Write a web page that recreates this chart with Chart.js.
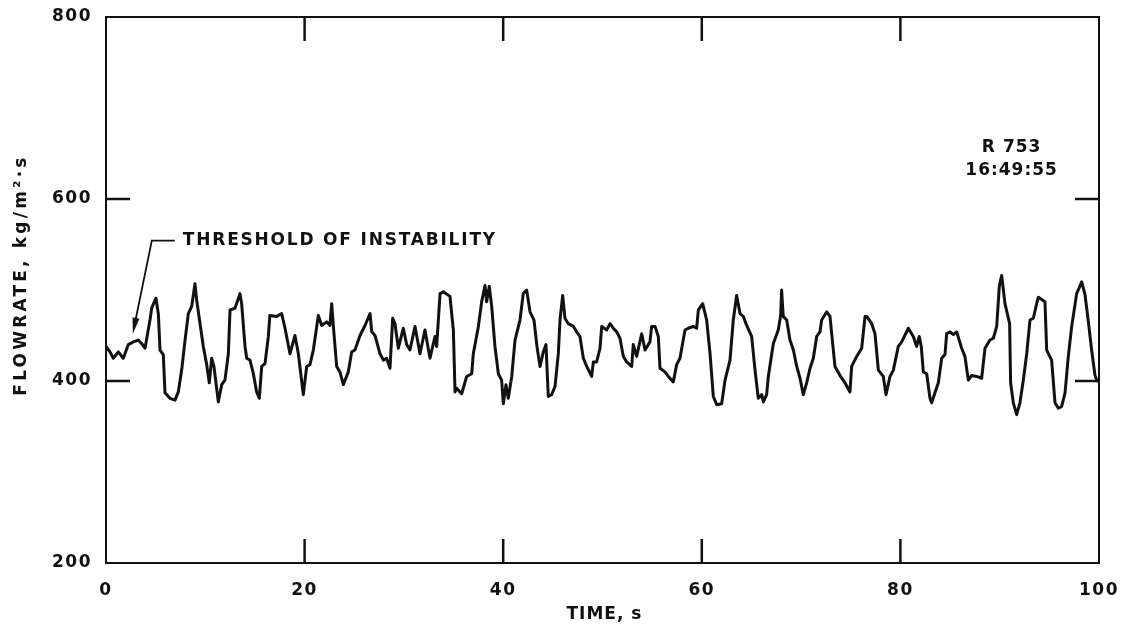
<!DOCTYPE html>
<html>
<head>
<meta charset="utf-8">
<script src="https://cdn.jsdelivr.net/npm/chart.js@4.4.1/dist/chart.umd.min.js"></script>
<style>
  html, body { margin: 0; padding: 0; background: #ffffff; }
  #wrap { width: 1125px; height: 628px; }
</style>
</head>
<body>
<div id="wrap"><canvas id="flow" width="1125" height="628"></canvas></div>
<script>
// Flow-rate record for run R 753 (time in s, flow rate in kg/m2.s)
const timeSec = [
  0.0, 0.4, 0.74, 1.24, 1.74, 2.25, 2.75, 3.25, 3.6, 3.93, 4.43, 4.6, 5.03, 5.27, 5.44, 5.77, 5.94, 6.44, 6.95, 7.28,
  7.62, 7.96, 8.29, 8.63, 8.96, 9.13, 9.47, 9.8, 10.14, 10.4, 10.64, 10.87, 11.31, 11.65, 11.98, 12.32, 12.49, 12.99, 13.49, 13.66,
  14.0, 14.17, 14.5, 14.84, 15.17, 15.44, 15.68, 16.01, 16.35, 16.5, 17.19, 17.69, 18.03, 18.53, 19.03, 19.37, 19.87, 20.21, 20.54, 20.88,
  21.38, 21.72, 22.22, 22.55, 22.73, 22.89, 23.23, 23.56, 23.9, 24.4, 24.74, 25.07, 25.58, 26.08, 26.59, 26.76, 27.09, 27.59, 27.93, 28.26,
  28.6, 28.87, 29.1, 29.44, 29.94, 30.28, 30.61, 31.12, 31.62, 32.12, 32.63, 33.13, 33.3, 33.64, 33.97, 34.64, 34.98, 35.15, 35.31, 35.82,
  36.32, 36.83, 36.99, 37.5, 37.83, 38.17, 38.33, 38.6, 38.84, 39.17, 39.51, 39.84, 40.01, 40.28, 40.51, 40.86, 41.19, 41.69, 42.02, 42.36,
  42.7, 43.1, 43.4, 43.71, 44.04, 44.31, 44.54, 44.88, 45.22, 45.55, 45.72, 45.99, 46.22, 46.56, 47.06, 47.4, 47.73, 48.07, 48.41, 48.91,
  49.08, 49.41, 49.75, 49.92, 50.42, 50.76, 51.09, 51.43, 51.76, 52.1, 52.43, 52.94, 53.1, 53.44, 53.95, 54.28, 54.78, 54.95, 55.29, 55.62,
  55.79, 56.29, 56.63, 57.13, 57.47, 57.8, 58.31, 58.64, 59.14, 59.48, 59.65, 60.09, 60.49, 60.83, 61.16, 61.5, 62.0, 62.34, 62.84, 63.17,
  63.51, 63.85, 64.18, 64.52, 65.02, 65.36, 65.69, 66.03, 66.2, 66.53, 66.7, 67.2, 67.7, 67.94, 68.04, 68.2, 68.55, 68.88, 69.22, 69.56,
  69.89, 70.22, 70.56, 70.9, 71.23, 71.57, 71.9, 72.07, 72.58, 72.91, 73.08, 73.41, 73.92, 74.42, 74.92, 75.09, 75.6, 76.1, 76.44, 76.6,
  77.11, 77.44, 77.78, 78.28, 78.55, 78.95, 79.29, 79.79, 80.13, 80.8, 81.3, 81.64, 81.9, 82.1, 82.31, 82.65, 82.98, 83.15, 83.48, 83.82,
  84.16, 84.49, 84.66, 85.0, 85.33, 85.67, 86.17, 86.5, 86.84, 87.17, 87.68, 88.18, 88.52, 89.02, 89.36, 89.7, 89.96, 90.2, 90.53, 91.0,
  91.1, 91.37, 91.71, 92.04, 92.38, 92.72, 93.05, 93.39, 93.72, 93.89, 94.56, 94.73, 95.23, 95.57, 95.9, 96.24, 96.58, 96.91, 97.25, 97.75,
  98.26, 98.59, 98.93, 99.26, 99.6, 99.77, 100.0
];
const flowRate = [
  438, 432, 425, 432, 425, 440, 443, 445, 441, 436, 467, 480, 491, 474, 434, 429, 387, 381, 379, 388,
  412, 445, 474, 482, 507, 489, 463, 438, 418, 398, 425, 416, 377, 396, 401, 430, 478, 480, 496, 485,
  438, 425, 423, 408, 388, 381, 416, 419, 449, 472, 471, 474, 458, 430, 450, 430, 385, 416, 418, 434,
  472, 461, 465, 461, 485, 461, 416, 410, 396, 410, 432, 434, 450, 461, 474, 454, 450, 430, 423, 425,
  414, 469, 463, 436, 458, 440, 434, 460, 430, 456, 425, 449, 438, 496, 498, 493, 456, 388, 392, 386,
  405, 408, 430, 460, 487, 505, 487, 504, 482, 438, 408, 401, 375, 396, 381, 405, 445, 467, 496, 500,
  476, 467, 438, 416, 432, 440, 383, 385, 394, 430, 467, 494, 469, 463, 460, 454, 449, 425, 416, 405,
  421, 421, 436, 460, 456, 463, 458, 454, 447, 427, 421, 416, 440, 427, 452, 434, 443, 460, 460, 449,
  414, 410, 405, 399, 418, 425, 456, 458, 460, 458, 478, 485, 467, 430, 383, 374, 375, 401, 423, 467,
  494, 474, 471, 461, 449, 412, 381, 385, 377, 385, 405, 441, 456, 472, 500, 471, 467, 445, 434, 416,
  403, 385, 398, 414, 425, 449, 454, 467, 476, 471, 452, 416, 406, 398, 388, 416, 427, 436, 471, 471,
  463, 452, 412, 405, 385, 405, 412, 438, 443, 458, 449, 438, 449, 438, 410, 408, 381, 376, 387, 398,
  425, 429, 452, 454, 451, 454, 436, 427, 401, 406, 405, 403, 436, 445, 447, 460, 504, 516, 485, 463,
  398, 376, 363, 376, 401, 430, 467, 469, 485, 492, 487, 434, 423, 376, 370, 372, 387, 427, 460, 496,
  509, 495, 465, 434, 406, 401, 399
];
const xTicks = [0, 20, 40, 60, 80, 100];
const yTicks = [200, 400, 600, 800];
const xTitle = 'TIME, s';
const yTitle = 'FLOWRATE, kg/m²·s';
const runLines = ['R 753', '16:49:55'];
const noteText = 'THRESHOLD OF INSTABILITY';
const onsetTime = 2.7;      // time the arrow points to
const onsetFlow = 452;      // just above the trace at that time

const INK = '#111111';
const FONT = 'bold 17px "DejaVu Sans", sans-serif';

const points = timeSec.map((t, i) => ({ x: t, y: flowRate[i] }));

function line(ctx, x1, y1, x2, y2) {
  ctx.beginPath();
  ctx.moveTo(x1, y1);
  ctx.lineTo(x2, y2);
  ctx.stroke();
}

// keep tick labels from pushing the plot frame inward
function noOverflow(scale) {
  scale.paddingLeft = 0;
  scale.paddingRight = 0;
  scale.paddingTop = 0;
  scale.paddingBottom = 0;
}

const decorations = {
  id: 'decorations',
  beforeDraw(chart) {
    chart.ctx.letterSpacing = '1.5px';
  },
  afterDraw(chart) {
    const { ctx, chartArea: a, scales: { x, y } } = chart;
    ctx.save();
    ctx.letterSpacing = '1.5px';
    ctx.strokeStyle = INK;
    ctx.fillStyle = INK;
    ctx.lineCap = 'square';

    // frame
    ctx.lineWidth = 2;
    ctx.strokeRect(a.left, a.top, a.right - a.left, a.bottom - a.top);

    // inward tick marks on all four sides
    ctx.lineWidth = 2.5;
    ctx.lineCap = 'butt';
    const L = 24;
    xTicks.slice(1, -1).forEach(v => {
      const px = x.getPixelForValue(v);
      line(ctx, px, a.top, px, a.top + L);
      line(ctx, px, a.bottom - L, px, a.bottom);
    });
    yTicks.slice(1, -1).forEach(v => {
      const py = y.getPixelForValue(v);
      line(ctx, a.left, py, a.left + L, py);
      line(ctx, a.right - L, py, a.right, py);
    });

    ctx.font = FONT;

    // axis titles
    ctx.textAlign = 'center';
    ctx.textBaseline = 'middle';
    ctx.letterSpacing = '1px';
    ctx.fillText(xTitle, (a.left + a.right) / 2 + 2, 615);
    ctx.save();
    ctx.letterSpacing = '3.2px';
    ctx.translate(22, (a.top + a.bottom) / 2 - 15);
    ctx.rotate(-Math.PI / 2);
    ctx.fillText(yTitle, 0, 0);
    ctx.restore();

    // run identification
    ctx.letterSpacing = '1px';
    const rx = x.getPixelForValue(91.2);
    ctx.fillText(runLines[0], rx, y.getPixelForValue(656));
    ctx.fillText(runLines[1], rx, y.getPixelForValue(631));

    // leader arrow to the onset of oscillations
    const tx = x.getPixelForValue(onsetTime);
    const ty = y.getPixelForValue(onsetFlow);
    const cx = tx + 19, cy = ty - 93;
    ctx.lineWidth = 1.8;
    ctx.beginPath();
    ctx.moveTo(tx + 2, ty - 10);
    ctx.lineTo(cx, cy);
    ctx.lineTo(cx + 23, cy);
    ctx.stroke();
    const dx = cx - tx, dy = cy - ty, len = Math.hypot(dx, dy);
    const ux = dx / len, uy = dy / len;
    const bx = tx + ux * 16, by = ty + uy * 16;
    ctx.beginPath();
    ctx.moveTo(tx, ty);
    ctx.lineTo(bx - uy * 3.5, by + ux * 3.5);
    ctx.lineTo(bx + uy * 3.5, by - ux * 3.5);
    ctx.closePath();
    ctx.fill();

    ctx.letterSpacing = '1.8px';
    ctx.textAlign = 'left';
    ctx.fillText(noteText, cx + 31, cy);
    ctx.restore();
  }
};

new Chart(document.getElementById('flow'), {
  type: 'line',
  data: {
    datasets: [{
      data: points,
      borderColor: INK,
      borderWidth: 3,
      pointRadius: 0,
      tension: 0,
      fill: false,
      borderJoinStyle: 'round',
      borderCapStyle: 'round'
    }]
  },
  options: {
    responsive: false,
    animation: false,
    parsing: false,
    layout: { padding: { top: 17, right: 26, left: 0, bottom: 0 } },
    plugins: { legend: { display: false }, tooltip: { enabled: false } },
    scales: {
      x: {
        type: 'linear',
        min: 0, max: 100,
        afterBuildTicks: s => { s.ticks = xTicks.map(v => ({ value: v })); },
        afterFit: s => { s.height = 65; noOverflow(s); },
        grid: { display: false, drawTicks: false },
        border: { display: false },
        ticks: { color: INK, font: { family: '"DejaVu Sans", sans-serif', size: 17, weight: 'bold' }, padding: 17, maxRotation: 0, autoSkip: false }
      },
      y: {
        type: 'linear',
        min: 200, max: 800,
        afterBuildTicks: s => { s.ticks = yTicks.map(v => ({ value: v })); },
        afterFit: s => { s.width = 106; noOverflow(s); },
        grid: { display: false, drawTicks: false },
        border: { display: false },
        ticks: { color: INK, font: { family: '"DejaVu Sans", sans-serif', size: 17, weight: 'bold' }, padding: 14 }
      }
    }
  },
  plugins: [decorations]
});
</script>
</body>
</html>
